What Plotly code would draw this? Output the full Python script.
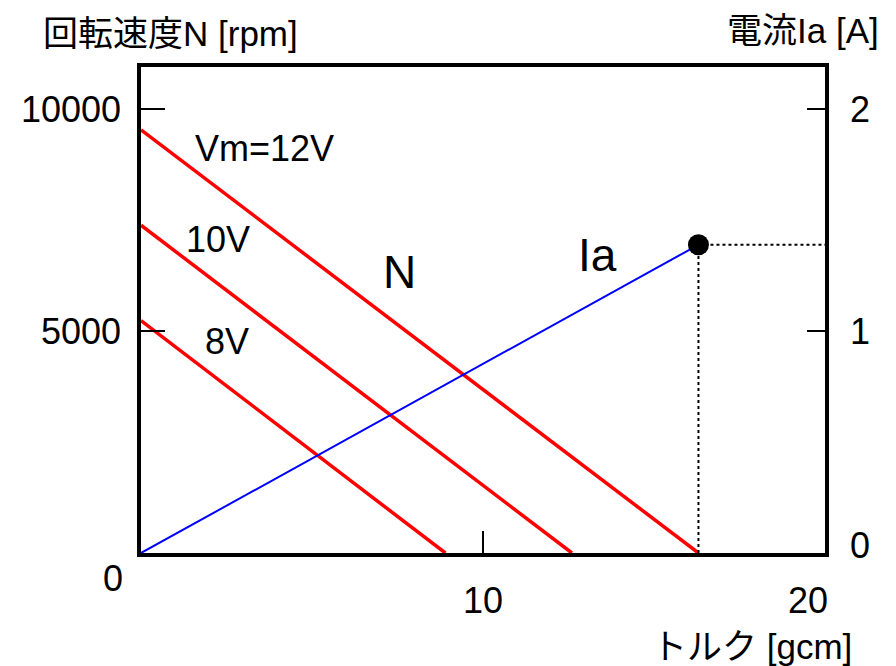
import plotly.graph_objects as go

# Motor characteristics: speed vs torque for several supply voltages, and armature current
voltages = [12, 10, 8]
voltage_labels = ["Vm=12V", "10V", "8V"]
no_load_speed = [9540, 7390, 5240]      # rpm at zero torque
stall_torque = [16.3, 12.6, 8.9]        # gcm at zero speed
current_torque = [0, 16.3]              # gcm
current_values = [0, 1.39]              # A

x_ticks = [10]
x_tick_labels = ["10", "20"]
x_tick_label_vals = [10, 20]
y_ticks = [5000, 10000]
y_tick_labels = ["5000", "10000"]
y2_ticks = [1, 2]
y2_tick_labels = ["0", "1", "2"]
y2_tick_label_vals = [0, 1, 2]

Y_MAX = 10958
Y2_MAX = Y_MAX / 5000.0

FONT = "Liberation Sans, Arial, Noto Sans CJK JP, sans-serif"
RED = "#ff0000"
BLUE = "#0000ff"
TICK_FONT = dict(size=36, color="black", family=FONT)

fig = go.Figure()

for v, n0, ts in zip(voltages, no_load_speed, stall_torque):
    fig.add_trace(go.Scatter(x=[0, ts], y=[n0, 0], mode="lines",
                             line=dict(color=RED, width=3.5), name=f"{v}V",
                             showlegend=False, hoverinfo="skip"))

# Current line on the right axis
fig.add_trace(go.Scatter(x=current_torque, y=current_values, mode="lines",
                         line=dict(color=BLUE, width=2), yaxis="y2",
                         showlegend=False, hoverinfo="skip"))

# Dotted guides from the stall point
fig.add_trace(go.Scatter(x=[current_torque[-1], current_torque[-1]],
                         y=[0, current_values[-1]], mode="lines",
                         line=dict(color="black", width=2, dash="dot"),
                         yaxis="y2", showlegend=False, hoverinfo="skip"))
fig.add_trace(go.Scatter(x=[current_torque[-1], 20],
                         y=[current_values[-1], current_values[-1]], mode="lines",
                         line=dict(color="black", width=2, dash="dot"),
                         yaxis="y2", showlegend=False, hoverinfo="skip"))
fig.add_trace(go.Scatter(x=[current_torque[-1]], y=[current_values[-1]], mode="markers",
                         marker=dict(color="black", size=21), yaxis="y2",
                         showlegend=False, hoverinfo="skip", cliponaxis=False))

annotations = []

# In-plot labels
label_pos = [(3.6, 9130), (2.25, 7060), (2.51, 4780)]
for txt, (lx, ly) in zip(voltage_labels, label_pos):
    annotations.append(dict(x=lx, y=ly, xref="x", yref="y", text=txt, showarrow=False,
                            font=dict(size=36, color="black", family=FONT)))
annotations.append(dict(x=7.57, y=6330, xref="x", yref="y", text="N", showarrow=False,
                        font=dict(size=46, color="black", family=FONT)))
annotations.append(dict(x=13.36, y=6720, xref="x", yref="y", text="Ia", showarrow=False,
                        font=dict(size=46, color="black", family=FONT)))

# Tick labels
for val, txt in zip(y_ticks, y_tick_labels):
    annotations.append(dict(x=0, y=val, xref="paper", yref="y", text=txt, showarrow=False,
                            xanchor="right", xshift=-18, font=TICK_FONT))
for val, txt in zip(y2_tick_label_vals, y2_tick_labels):
    annotations.append(dict(x=1, y=val, xref="paper", yref="y2", text=txt, showarrow=False,
                            xanchor="center", xshift=35, yshift=(8 if val == 0 else 0),
                            font=TICK_FONT))
for val, txt in zip(x_tick_label_vals, x_tick_labels):
    annotations.append(dict(x=val, y=0, xref="x", yref="paper", text=txt, showarrow=False,
                            yanchor="middle", yshift=-47, xshift=(-17 if val == 20 else 0),
                            font=TICK_FONT))
annotations.append(dict(x=0, y=0, xref="x", yref="paper", text="0", showarrow=False,
                        yanchor="middle", yshift=-25, xshift=-28, font=TICK_FONT))

# Axis titles
TITLE_FONT = dict(size=35, color="black", family=FONT)
annotations.append(dict(x=0, y=1, xref="paper", yref="paper", text="回転速度N [rpm]",
                        showarrow=False, xanchor="center", yanchor="middle",
                        xshift=29, yshift=34, font=TITLE_FONT))
annotations.append(dict(x=1, y=1, xref="paper", yref="paper", text="電流Ia [A]",
                        showarrow=False, xanchor="center", yanchor="middle",
                        xshift=-22, yshift=37, font=TITLE_FONT))
annotations.append(dict(x=1, y=0, xref="paper", yref="paper", text="トルク [gcm]",
                        showarrow=False, xanchor="center", yanchor="middle",
                        xshift=-73, yshift=-93, font=TITLE_FONT))

axis_common = dict(showgrid=False, zeroline=False, showline=True, linecolor="black",
                   linewidth=4, ticks="inside", tickcolor="black", tickwidth=2,
                   showticklabels=False, tickmode="array")

fig.update_layout(
    width=896, height=666,
    margin=dict(l=141, r=71, t=67, b=113),
    paper_bgcolor="white", plot_bgcolor="white",
    showlegend=False,
    xaxis=dict(range=[0, 20], tickvals=x_ticks, ticklen=22, mirror=True, **axis_common),
    yaxis=dict(range=[0, Y_MAX], tickvals=y_ticks, ticklen=24, **axis_common),
    yaxis2=dict(range=[0, Y2_MAX], tickvals=y2_ticks, ticklen=18, overlaying="y",
                side="right", **axis_common),
    annotations=annotations,
)

fig.write_html("out.html")
